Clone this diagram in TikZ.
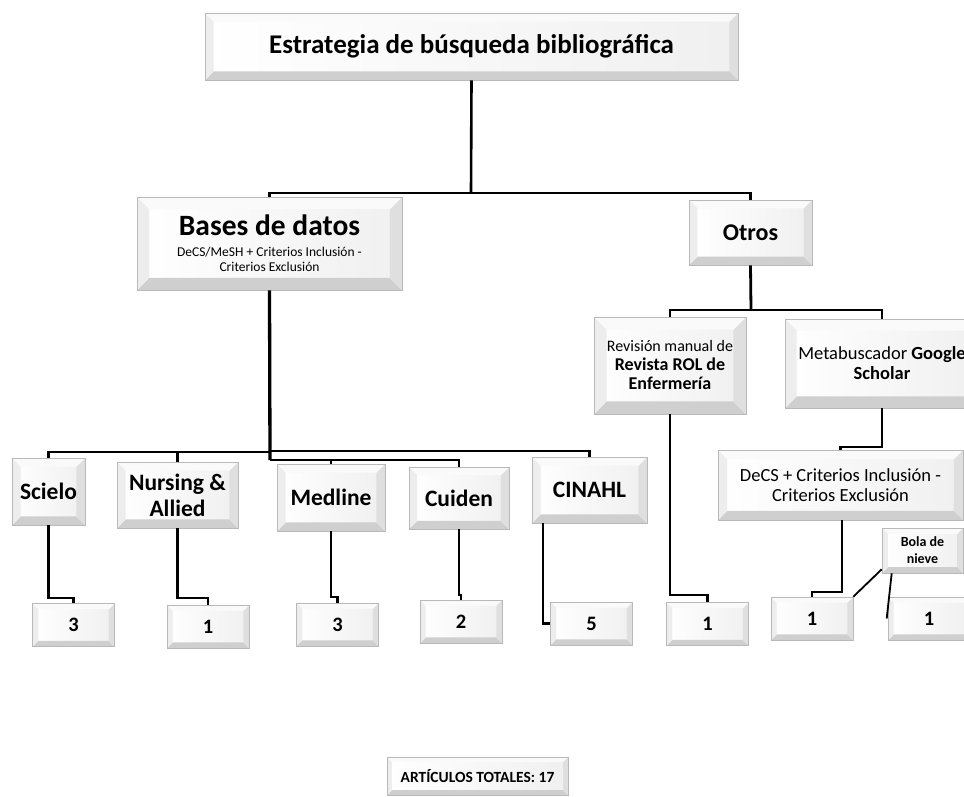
\documentclass[tikz,border=0pt]{standalone}
\usepackage{fontspec}
\setmainfont{Carlito}
\usetikzlibrary{calc}
\newcommand{\bvfaces}{%
 \shade[left color=white,right color=gray!12] let \p1=(path picture bounding box.south west),\p2=(path picture bounding box.north east) in (\x1,\y1) rectangle (\x2,\y2);
 \fill[gray!38] let \p1=(path picture bounding box.south west),\p2=(path picture bounding box.north east),\n1={0.13*min(\x2-\x1,\y2-\y1)} in (\x1,\y1)--(\x2,\y1)--(\x2-\n1,\y1+\n1)--(\x1+\n1,\y1+\n1)--cycle;
 \fill[gray!25] let \p1=(path picture bounding box.south west),\p2=(path picture bounding box.north east),\n1={0.13*min(\x2-\x1,\y2-\y1)} in (\x2,\y1)--(\x2,\y2)--(\x2-\n1,\y2-\n1)--(\x2-\n1,\y1+\n1)--cycle;
 \fill[gray!4] let \p1=(path picture bounding box.south west),\p2=(path picture bounding box.north east),\n1={0.13*min(\x2-\x1,\y2-\y1)} in (\x1,\y2)--(\x2,\y2)--(\x2-\n1,\y2-\n1)--(\x1+\n1,\y2-\n1)--cycle;
 \fill[gray!14] let \p1=(path picture bounding box.south west),\p2=(path picture bounding box.north east),\n1={0.13*min(\x2-\x1,\y2-\y1)} in (\x1,\y1)--(\x1,\y2)--(\x1+\n1,\y2-\n1)--(\x1+\n1,\y1+\n1)--cycle;
}
\tikzset{
  bevelbox/.style={draw=gray!55, line width=0.6pt, fill=white, align=center, inner sep=1pt, path picture={\bvfaces}},
  sz/.style 2 args={minimum width=#1, minimum height=#2},
  dbbox/.style={bevelbox, font=\bfseries\fontsize{23.5}{26}\selectfont},
  numbox/.style={bevelbox, sz={82pt}{43pt}, font=\bfseries\fontsize{20.5}{24}\selectfont},
  conn/.style={line width=2.3pt, black},
  trunk/.style={line width=3.3pt, black},
}
\begin{document}
\begin{tikzpicture}[x=1pt,y=-1pt]
\useasboundingbox (0,0) rectangle (964,796);
\clip (0,0) rectangle (964,796);
\fill[white] (0,0) rectangle (964,796);

% top level
\node[bevelbox, sz={533pt}{67pt}, font=\bfseries\fontsize{27}{30}\selectfont] (top) at (471.5,46.5) {Estrategia de búsqueda bibliográfica};
\node[bevelbox, sz={265pt}{93pt}, font=\fontsize{13.5}{15}\selectfont] (bases) at (269.5,243.5) {{\bfseries\fontsize{29.5}{30}\selectfont Bases de datos}\\[6pt]DeCS/MeSH + Criterios Inclusión -\\Criterios Exclusión};
\node[bevelbox, sz={123pt}{65pt}, font=\bfseries\fontsize{24}{28}\selectfont] (otros) at (750.5,232.5) {Otros};

% Otros branch
\node[bevelbox, sz={152pt}{97pt}, font=\fontsize{16}{19}\selectfont] (revista) at (670,365.5) {Revisión manual de\\{\bfseries\fontsize{18}{19}\selectfont Revista ROL de}\\{\bfseries\fontsize{18}{19}\selectfont Enfermería}};
\node[bevelbox, sz={194pt}{89pt}, font=\fontsize{18.5}{20}\selectfont] (google) at (882,363.5) {Metabuscador \textbf{Google}\\\textbf{Scholar}};
\node[bevelbox, sz={245pt}{70pt}, font=\fontsize{18.5}{20}\selectfont] (decs) at (840.5,485) {DeCS + Criterios Inclusión -\\Criterios Exclusión};
\node[bevelbox, sz={81pt}{45pt}, font=\bfseries\fontsize{14}{17}\selectfont] (bola) at (922.5,550.5) {Bola de\\nieve};

% databases
\node[dbbox, sz={73pt}{67pt}] (scielo) at (48.5,491.5) {Scielo};
\node[dbbox, sz={121pt}{66pt}] (nursing) at (177.5,495) {Nursing \&\\Allied};
\node[dbbox, sz={108pt}{67pt}] (medline) at (331,497.5) {Medline};
\node[dbbox, sz={100pt}{62pt}] (cuiden) at (459,498) {Cuiden};
\node[dbbox, sz={115pt}{66pt}] (cinahl) at (589.5,490) {CINAHL};

% counts
\node[numbox] (n1) at (73.5,625) {3};
\node[numbox] (n2) at (208,626.5) {1};
\node[numbox] (n3) at (337.5,624.5) {3};
\node[numbox] (n4) at (461,621.5) {2};
\node[numbox] (n5) at (591.5,623.5) {5};
\node[numbox] (n6) at (707.5,624) {1};
\node[numbox] (n7) at (812,618.5) {1};
\node[numbox] (n8) at (929,618.5) {1};

\node[bevelbox, sz={181pt}{38pt}, font=\bfseries\fontsize{15.5}{18}\selectfont] (total) at (477.5,776) {ARTÍCULOS TOTALES: 17};

% connectors top
\coordinate (j0) at (471,193);
\draw[conn, line width=2.6pt] (top.south) -- (j0);
\draw[conn] (j0) -| (bases.north);
\draw[conn] (j0) -| (otros.north);

% bases trunk and buses
\coordinate (j1) at (270,452);
\coordinate (j2) at (270,460);
\draw[trunk] (bases.south) -- (j2);
\draw[conn, line width=2.7pt] (j1) -| (scielo.north);
\draw[conn, line width=2.7pt] (j1) -| (nursing.north);
\draw[conn] (270,451) -| (cinahl.north);
\draw[conn, line width=2.7pt] (j2) -| (medline.north);
\draw[conn] (j2) -| (cuiden.north);

% database -> counts
\draw[conn] (scielo.south) |- ([yshift=5pt]n1.north) -- (n1.north);
\draw[conn] (nursing.south) |- ([yshift=7pt]n2.north) -- (n2.north);
\draw[conn] (medline.south) |- ([yshift=6pt]n3.north) -- (n3.north);
\draw[conn] (cuiden.south) |- ([yshift=5pt]n4.north) -- (n4.north);
\draw[conn] ([xshift=11pt]cinahl.south west) |- (n5.west);

% otros branch
\coordinate (j3) at (751,310);
\draw[conn, line width=2.8pt] (otros.south) -- (j3);
\draw[conn] (j3) -| (revista.north);
\draw[conn] (j3) -| (google.north);
\draw[conn] (revista.south) |- ([yshift=7pt]n6.north) -- (n6.north);
\draw[conn] (google.south) |- ([yshift=3pt]decs.north) -- (decs.north);
\draw[conn] ([xshift=1.5pt]decs.south) |- ([yshift=5pt]n7.north) -- (n7.north);
\draw[conn, line width=1.8pt] (n7.north east) -- ([yshift=4pt]bola.south west);
\draw[conn, line width=1.8pt] ([xshift=10pt]bola.south west) -- ([xshift=-1pt]n8.west);
\end{tikzpicture}
\end{document}
